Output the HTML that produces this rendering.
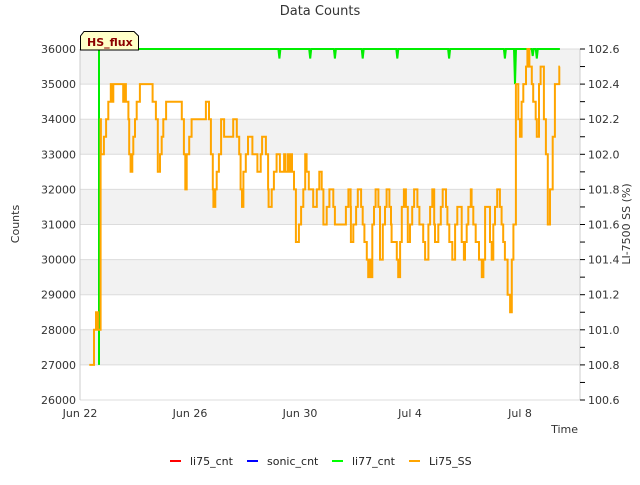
<!DOCTYPE html>
<html><head><meta charset="utf-8"><style>
body{margin:0;background:#fff;}
svg{font-family:"DejaVu Sans","Liberation Sans",sans-serif;}
</style></head><body>
<svg id="chart" width="640" height="480">
<g id="bands"></g>
<text x="320" y="15" text-anchor="middle" font-size="13" fill="#333">Data Counts</text>
<text x="19" y="224" transform="rotate(-90 19 224)" text-anchor="middle" font-size="11" fill="#333">Counts</text>
<text x="630" y="224" transform="rotate(-90 630 224)" text-anchor="middle" font-size="11" fill="#333">LI-7500 SS (%)</text>
<text x="578" y="433" text-anchor="end" font-size="11" fill="#333">Time</text>
<g id="marks"></g>
<g>
<path d="M80.5,50 L80.5,36 L84,31.5 L134,31.5 L138.5,36 L138.5,50 Z" fill="#ffffc8" stroke="#000" stroke-width="1"/>
<text x="87" y="46" font-size="11" font-weight="bold" fill="#8b0000">HS_flux</text>
</g>
<g font-size="11" fill="#222">
<g><line x1="170" y1="461" x2="181" y2="461" stroke="#f00" stroke-width="2"/><text x="190" y="465">li75_cnt</text></g>
<g><line x1="247" y1="461" x2="258" y2="461" stroke="#00f" stroke-width="2"/><text x="267" y="465">sonic_cnt</text></g>
<g><line x1="332" y1="461" x2="343" y2="461" stroke="#0f0" stroke-width="2"/><text x="352" y="465">li77_cnt</text></g>
<g><line x1="409" y1="461" x2="420" y2="461" stroke="orange" stroke-width="2"/><text x="429" y="465">Li75_SS</text></g>
</g>
</svg>
<script>
const xTickLabels=["Jun 22","Jun 26","Jun 30","Jul 4","Jul 8"];
const xTickDays=[0,4,8,12,16];
const yTicks=[26000,27000,28000,29000,30000,31000,32000,33000,34000,35000,36000];
const y2Ticks=[100.6,100.8,101.0,101.2,101.4,101.6,101.8,102.0,102.2,102.4,102.6];
// Li75_SS step series: day (since Jun 22) where each value begins
const ssDays=[0.34,0.51,0.58,0.65,0.75,0.76,0.87,0.95,1.03,1.12,1.19,1.21,1.57,1.64,1.67,1.76,1.79,1.84,1.90,1.94,2.00,2.06,2.18,2.64,2.76,2.83,2.91,2.97,3.03,3.13,3.70,3.78,3.83,3.88,3.97,4.06,4.58,4.69,4.76,4.83,4.85,4.92,4.97,5.05,5.13,5.24,5.57,5.70,5.79,5.84,5.89,5.94,6.03,6.11,6.27,6.45,6.57,6.62,6.76,6.84,6.86,6.97,7.05,7.15,7.27,7.42,7.47,7.56,7.61,7.66,7.71,7.78,7.85,7.96,8.04,8.12,8.19,8.24,8.32,8.48,8.61,8.70,8.79,8.85,8.97,9.07,9.21,9.27,9.67,9.76,9.84,9.85,9.94,10.04,10.10,10.22,10.28,10.34,10.43,10.48,10.55,10.58,10.63,10.69,10.75,10.85,10.91,11.01,11.09,11.15,11.25,11.31,11.33,11.52,11.57,11.64,11.70,11.78,11.85,11.92,12.00,12.08,12.15,12.27,12.34,12.48,12.55,12.67,12.73,12.81,12.88,12.91,13.03,13.12,13.19,13.31,13.36,13.43,13.54,13.64,13.72,13.88,13.96,14.00,14.06,14.12,14.21,14.24,14.30,14.39,14.51,14.61,14.67,14.73,14.91,14.97,15.03,15.09,15.17,15.27,15.33,15.39,15.45,15.55,15.64,15.70,15.76,15.85,15.94,16.00,16.06,16.12,16.22,16.27,16.34,16.43,16.48,16.57,16.61,16.69,16.75,16.87,16.94,17.01,17.09,17.19,17.27,17.43,17.45];
const ssValues=[27000,28000,28500,28000,34000,33000,33500,34000,34500,35000,34500,35000,34500,35000,34500,34000,33000,32500,33000,33500,34000,34500,35000,34500,34000,32500,33000,33500,34000,34500,34000,33000,32000,33000,33500,34000,34500,34000,33000,32000,31500,32000,32500,33000,34000,33500,34000,33500,33000,32000,31500,32500,33000,33500,33000,32500,33000,33500,33000,32000,31500,32000,32500,33000,32500,33000,32500,33000,32500,33000,32500,32000,30500,31000,31500,32000,33000,32500,32000,31500,32000,32500,32000,31000,31500,32000,31500,31000,31500,32000,31500,30500,31000,31500,32000,31500,31000,30500,30000,29500,30000,29500,31000,31500,32000,31500,30000,31000,31500,32000,31500,31000,30500,30000,29500,30500,31500,32000,31500,30500,31000,31500,32000,31500,31000,30500,30000,31000,31500,32000,31000,30500,31000,31500,32000,31500,31000,30500,30000,31000,31500,30500,30000,30500,31000,31500,32000,31500,31000,30500,30000,29500,30000,31500,30500,30000,31000,31500,32000,31500,31000,30500,30000,29000,28500,30000,31000,35000,34000,33500,34500,35000,35500,36000,35500,35000,34500,34000,33500,35000,35500,34000,33000,31000,32000,33500,35000,35500,35500];
// li77_cnt: start, end, and brief dips below 36000
const g77Start=[0.69,27000];
const g77End=17.45;
const g77DipDays=[7.25,8.37,9.27,10.28,11.54,13.42,15.45,15.82,16.46,16.61];
const g77DipValues=[35730,35730,35730,35730,35730,35730,35730,35000,35800,35730];

const NS="http://www.w3.org/2000/svg";
const L=80,R=580,T=49,B=400;
const xS=d=>L+d*27.5;
const yS=v=>B-(v-26000)/10000*(B-T);
const y2S=v=>B-(v-100.6)/2.0*(B-T);
const bands=document.getElementById('bands');
const marks=document.getElementById('marks');
function mk(tag,attrs,parent){const e=document.createElementNS(NS,tag);for(const k in attrs)e.setAttribute(k,attrs[k]);parent.appendChild(e);return e;}
for(let v=36000;v>26000;v-=2000){
  const r=mk('rect',{x:L,y:yS(v),width:R-L,height:yS(v-1000)-yS(v),fill:'#f2f2f2'},bands);
  
  
}
yTicks.forEach(v=>{
  const g=mk('line',{x1:L,x2:R,y1:yS(v),y2:yS(v),stroke:'#dcdcdc','stroke-width':1},bands);
  
  
  const t=mk('text',{x:L-4,y:yS(v)+4,'text-anchor':'end','font-size':11,fill:'#333'},bands);
  t.textContent=v;
  
  
});
mk('line',{x1:L,x2:L,y1:T,y2:B,stroke:'#ccc'},bands);
mk('line',{x1:R,x2:R,y1:T,y2:B,stroke:'#ccc'},bands);
y2Ticks.forEach((v,i)=>{
  const t=mk('text',{x:R+8,y:y2S(v)+4,'font-size':11,fill:'#333'},bands);
  t.textContent=v.toFixed(1);
  
  
  mk('line',{x1:R,x2:R+5,y1:y2S(v),y2:y2S(v),stroke:'#000'},bands);
  if(i<y2Ticks.length-1){const m=(v+0.1);mk('line',{x1:R,x2:R+5,y1:y2S(m),y2:y2S(m),stroke:'#000'},bands);}
});
xTickDays.forEach((d,i)=>{
  const t=mk('text',{x:xS(d),y:B+17,'text-anchor':'middle','font-size':11,fill:'#333'},bands);
  t.textContent=xTickLabels[i];
  
  
});
// green line
let gp='M'+xS(g77Start[0]).toFixed(1)+','+yS(g77Start[1]).toFixed(1)+' V'+yS(36000).toFixed(1);
g77DipDays.forEach((d,i)=>{
  gp+=' H'+(xS(d)-1).toFixed(1)+' L'+xS(d).toFixed(1)+','+yS(g77DipValues[i]).toFixed(1)+' L'+(xS(d)+1).toFixed(1)+','+yS(36000).toFixed(1);
});
gp+=' H'+xS(g77End).toFixed(1);
const gl=mk('path',{d:gp,fill:'none',stroke:'#00ee00','stroke-width':2},marks);


// orange step line
let op='M'+xS(ssDays[0]).toFixed(1)+','+yS(ssValues[0]).toFixed(1);
for(let i=1;i<ssDays.length;i++){op+=' H'+xS(ssDays[i]).toFixed(1)+' V'+yS(ssValues[i]).toFixed(1);}
const ol=mk('path',{d:op,fill:'none',stroke:'orange','stroke-width':2},marks);


</script>
</body></html>
